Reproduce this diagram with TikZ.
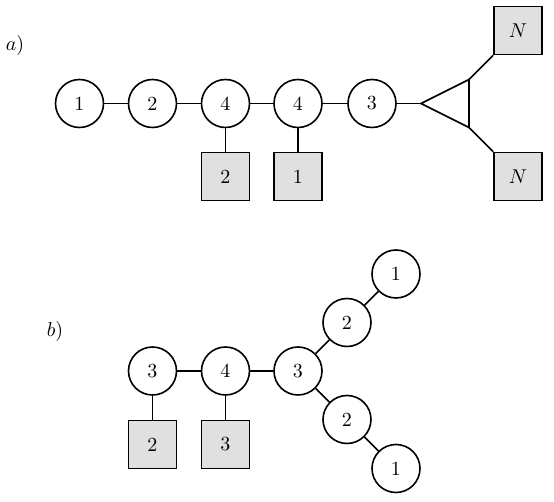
\documentclass[tikz,border=0pt]{standalone}
\begin{document}
\begin{tikzpicture}[x=0.5pt,y=-0.5pt,line width=0.8pt,
  gnode/.style={circle,draw,minimum size=24pt,inner sep=0pt},
  fnode/.style={rectangle,draw,fill=black!12,minimum size=24pt,inner sep=0pt}]
\useasboundingbox (0,0) rectangle (554,502);
% part a
\node (la) at (15,46) {$a)$};
\node[gnode] (a1) at (79.5,103.5) {1};
\node[gnode] (a2) at (152.5,103.5) {2};
\node[gnode] (a3) at (225.5,103.5) {4};
\node[gnode] (a4) at (298,103.5) {4};
\node[gnode] (a5) at (372,103.5) {3};
\node[fnode] (s1) at (225.5,176.5) {2};
\node[fnode] (s2) at (298,176.5) {1};
\node[fnode] (n1) at (518,30.5) {$N$};
\node[fnode] (n2) at (518,176.5) {$N$};
\coordinate (t1) at (421,103.5);
\coordinate (t2) at (469,79.5);
\coordinate (t3) at (469,127.5);
\draw (t1) -- (t2) -- (t3) -- cycle;
\draw (a1) -- (a2) -- (a3) -- (a4) -- (a5) -- (t1);
\draw (a3) -- (s1);
\draw (a4) -- (s2);
\draw (t2) -- (n1.south west);
\draw (t3) -- (n2.north west);
% part b
\node (lb) at (55,332) {$b)$};
\node[gnode] (b1) at (152.5,371) {3};
\node[gnode] (b2) at (225.5,371) {4};
\node[gnode] (b3) at (298,371) {3};
\node[gnode] (b4) at (347,322.5) {2};
\node[gnode] (b5) at (396,274) {1};
\node[gnode] (b6) at (347,419.5) {2};
\node[gnode] (b7) at (396,468.5) {1};
\node[fnode] (q1) at (152.5,444.5) {2};
\node[fnode] (q2) at (225.5,444.5) {3};
\draw (b1) -- (b2) -- (b3);
\draw (b3) -- (b4) -- (b5);
\draw (b3) -- (b6) -- (b7);
\draw (b1) -- (q1);
\draw (b2) -- (q2);
\end{tikzpicture}
\end{document}
